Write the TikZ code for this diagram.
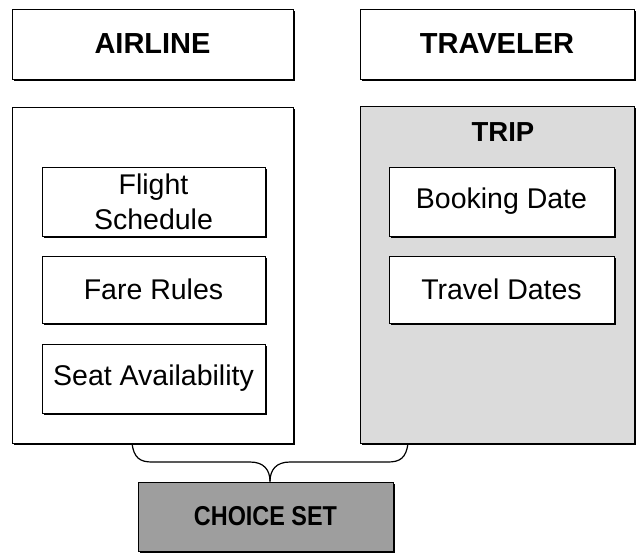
\documentclass[tikz,border=0pt]{standalone}
\usepackage{fontspec}
\setmainfont{Liberation Sans}
\usetikzlibrary{shadows}
\definecolor{tripgray}{gray}{0.86}
\definecolor{choicegray}{gray}{0.62}
\begin{document}
\begin{tikzpicture}[x=1pt,y=-1pt,
  box/.style={draw=black,line width=1pt,fill=white,inner sep=0pt,
    drop shadow={shadow xshift=2pt,shadow yshift=-2pt,fill=black,opacity=1}},
  titlebox/.style={box,font=\fontsize{29}{30}\selectfont\bfseries},
  itembox/.style={box,align=center,font=\fontsize{28.5}{34}\selectfont},
  brace/.style={draw=black,line width=1.2pt}]
\useasboundingbox (0,0) rectangle (636,552);
% headers
\node[titlebox,minimum width=281pt,minimum height=70pt] (airline) at (152.5,44) {AIRLINE};
\node[titlebox,minimum width=274pt,minimum height=70pt] (traveler) at (497,44) {TRAVELER};
% containers
\node[box,minimum width=281pt,minimum height=336pt] (airbox) at (152.5,275) {};
\node[box,fill=tripgray,minimum width=274pt,minimum height=337pt] (tripbox) at (497,274.5) {};
\node[font=\fontsize{27.5}{30}\selectfont\bfseries] (trip) at (503,132) {TRIP};
% airline items
\node[itembox,minimum width=223pt,minimum height=69pt] (flight) at (153.5,201.5) {Flight\\[1pt]Schedule};
\node[itembox,minimum width=223pt,minimum height=67pt] (fare) at (153.5,289.5) {Fare Rules};
\node[itembox,minimum width=223pt,minimum height=69pt] (seat) at (153.5,378.5) {Seat Availability};
% trip items
\node[itembox,minimum width=225pt,minimum height=69pt] (booking) at (501.5,201.5) {Booking Date};
\node[itembox,minimum width=225pt,minimum height=67pt] (travel) at (501.5,289.5) {Travel Dates};
% choice set
\node[box,fill=choicegray,minimum width=255pt,minimum height=69pt,
  font=\fontsize{26}{28}\selectfont\bfseries] (choice) at (265.5,516.5) {\scalebox{0.9}[1.05]{CHOICE SET}};
% brace
\coordinate (bl) at (airbox.south -| 132,0);
\coordinate (br) at (tripbox.south -| 408,0);
\draw[brace] (bl) .. controls (134,458) and (140,462) .. (152,462)
  -- (250,462) .. controls (264,462) and (270,470) .. (choice.north -| 270,0);
\draw[brace] (br) .. controls (406,458) and (400,462) .. (388,462)
  -- (290,462) .. controls (276,462) and (270,470) .. (choice.north -| 270,0);
\end{tikzpicture}
\end{document}
